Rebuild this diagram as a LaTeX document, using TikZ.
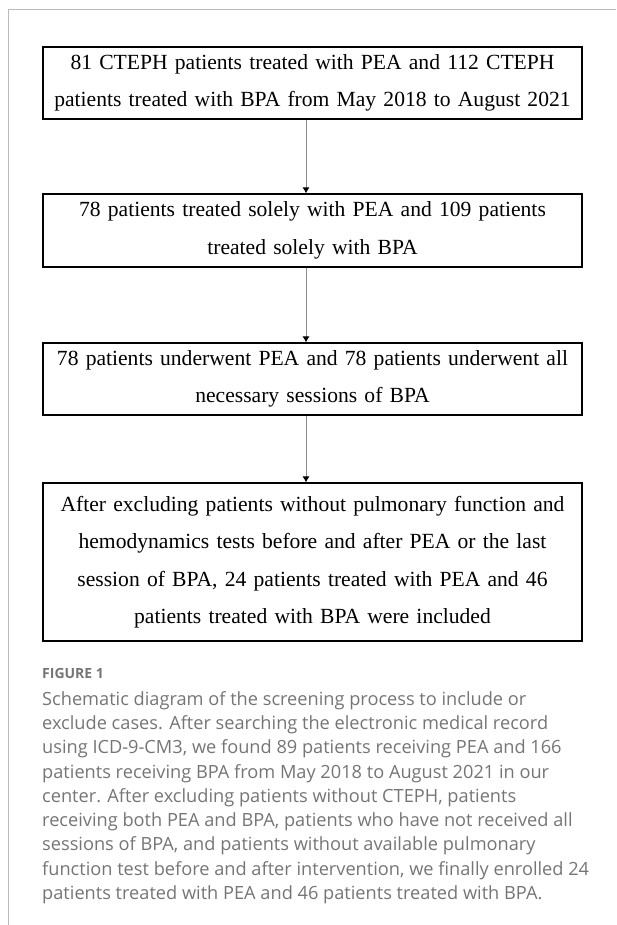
\documentclass[tikz,border=0pt]{standalone}
\usepackage{fontspec}
\setmainfont{Liberation Serif}
\newfontfamily\capfont{Open Sans}
\usetikzlibrary{arrows.meta}

\begin{document}
\begin{tikzpicture}[
    x=1pt, y=-1pt,
    flowbox/.style={
        draw=black,
        line width=1.1pt,
        align=center,
        text width=530pt,
        minimum width=539pt,
        inner sep=0pt,
        font=\fontsize{21.6}{37.5}\selectfont
    },
    flowarrow/.style={
        draw=black!45,
        line width=0.9pt,
        -{Latex[black,length=6pt,width=7pt]}
    }
]

% ---------------------------------
% Colors
% ---------------------------------
\definecolor{framecol}{HTML}{BBBBBB}
\definecolor{capcol}{HTML}{757575}

\useasboundingbox (0,0) rectangle (616,925);

% ---------------------------------
% Page frame
% ---------------------------------
\draw[framecol, line width=1pt] (8,925) -- (8,10) -- (616,10);

% ---------------------------------
% Flow chart
% ---------------------------------
\node[flowbox, minimum height=72pt] (cohort) at (312.5, 83) {
    81 CTEPH patients treated with PEA and 112 CTEPH\\
    patients treated with BPA from May 2018 to August 2021
};

\node[flowbox, minimum height=73pt] (solely) at (312.5, 230.5) {
    78 patients treated solely with PEA and 109 patients\\
    treated solely with BPA
};

\node[flowbox, minimum height=72pt] (sessions) at (312.5, 379) {
    78 patients underwent PEA and 78 patients underwent all\\
    necessary sessions of BPA
};

\node[flowbox, minimum height=158pt] (included) at (312.5, 562) {
    After excluding patients without pulmonary function and\\
    hemodynamics tests before and after PEA or the last\\
    session of BPA, 24 patients treated with PEA and 46\\
    patients treated with BPA were included
};

\draw[flowarrow] ([xshift=-6.5pt]cohort.south) -- ([xshift=-6.5pt]solely.north);
\draw[flowarrow] ([xshift=-6.5pt]solely.south) -- ([xshift=-6.5pt]sessions.north);
\draw[flowarrow] ([xshift=-6.5pt]sessions.south) -- ([xshift=-6.5pt]included.north);

% ---------------------------------
% Caption
% ---------------------------------
\node[anchor=north west, inner sep=0pt, text=capcol,
      font=\capfont\bfseries\fontsize{14}{16}\selectfont] (figlabel) at (42, 668) {FIGURE 1};

\node[anchor=north west, inner sep=0pt, align=left, text=capcol,
      font=\capfont\fontsize{18.2}{24.3}\selectfont] (figcaption) at (42, 691) {
    Schematic diagram of the screening process to include or\\
    exclude cases. After searching the electronic medical record\\
    using ICD-9-CM3, we found 89 patients receiving PEA and 166\\
    patients receiving BPA from May 2018 to August 2021 in our\\
    center. After excluding patients without CTEPH, patients\\
    receiving both PEA and BPA, patients who have not received all\\
    sessions of BPA, and patients without available pulmonary\\
    function test before and after intervention, we finally enrolled 24\\
    patients treated with PEA and 46 patients treated with BPA.
};

\end{tikzpicture}
\end{document}
